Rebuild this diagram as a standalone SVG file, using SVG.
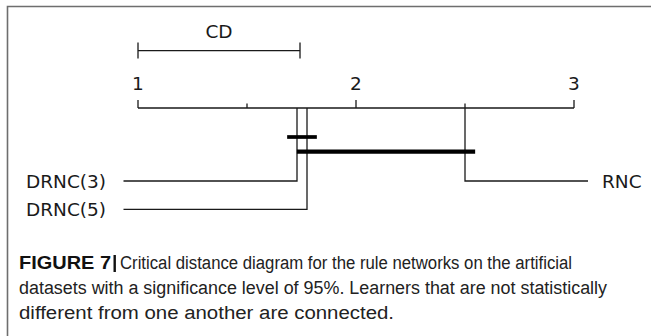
<svg xmlns="http://www.w3.org/2000/svg" width="651" height="336" viewBox="0 0 651 336">
  <style>
    .thin { stroke: #1a1a1a; stroke-width: 1.3; fill: none; }
    .bar { stroke: #000; stroke-linecap: square; fill: none; }
    .lbl { font-family: "DejaVu Sans", sans-serif; font-size: 18.5px; fill: #1a1a1a; }
    .cap { font-family: "Liberation Sans", Arial, sans-serif; font-size: 18px; fill: #222; }
    .capb { font-weight: bold; fill: #111; }
  </style>
  <rect width="651" height="336" fill="#fff"/>
  <!-- frame -->
  <path d="M7.5 336 V6.5 H651" stroke="#6e6e6e" stroke-width="1.6" fill="none"/>

  <!-- critical distance bracket -->
  <g id="cd">
    <path class="thin" d="M138 42.5 V58.5 M300 42.5 V58.5 M138 50.7 H300"/>
    <text class="lbl" x="219" y="37.5" text-anchor="middle">CD</text>
  </g>

  <!-- rank axis -->
  <g id="axis">
    <path class="thin" d="M138 108 H574 M138 100 V108 M356 100 V108 M574 100 V108 M247 103.5 V108 M465 103.5 V108"/>
    <text class="lbl" x="138" y="89.5" text-anchor="middle">1</text>
    <text class="lbl" x="356" y="89.5" text-anchor="middle">2</text>
    <text class="lbl" x="574" y="89.5" text-anchor="middle">3</text>
  </g>

  <g id="drnc3">
    <text class="lbl" x="106" y="188" text-anchor="end">DRNC(3)</text>
  </g>
  <g id="drnc5">
    <text class="lbl" x="106" y="216" text-anchor="end">DRNC(5)</text>
  </g>
  <g id="rnc">
    <text class="lbl" x="602" y="188">RNC</text>
  </g>

  <g id="connectors">
    <path class="thin" d="M297 108 V181 H123.5"/>
    <path class="thin" d="M307 108 V209.3 H123.5"/>
    <path class="thin" d="M465 108 V181 H588"/>
    <!-- cliques of equivalent learners -->
    <path class="bar" d="M289 137 H315" stroke-width="3.7"/>
    <path class="bar" d="M299 151.7 H473" stroke-width="4.3"/>
  </g>

  <!-- caption -->
  <g id="caption">
    <text class="cap capb" x="19" y="269" textLength="92" lengthAdjust="spacingAndGlyphs">FIGURE 7</text>
    <rect x="113.5" y="255" width="2.4" height="17" fill="#111"/>
    <text class="cap" x="120" y="269" textLength="452" lengthAdjust="spacingAndGlyphs">Critical distance diagram for the rule networks on the artificial</text>
    <text class="cap" x="19" y="294" textLength="588" lengthAdjust="spacingAndGlyphs">datasets with a significance level of 95%. Learners that are not statistically</text>
    <text class="cap" x="19" y="319" textLength="375" lengthAdjust="spacingAndGlyphs">different from one another are connected.</text>
  </g>
</svg>
